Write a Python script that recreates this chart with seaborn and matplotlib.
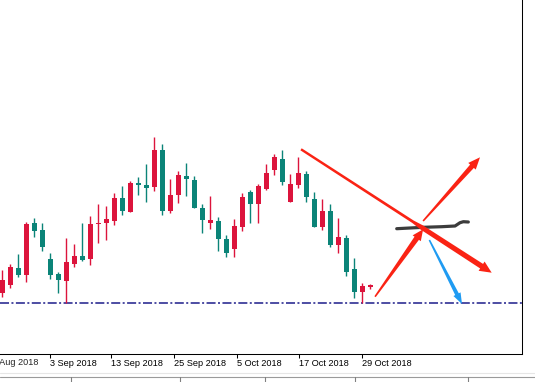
import numpy as np
import pandas as pd
import matplotlib
matplotlib.use("Agg")
import matplotlib.pyplot as plt
from matplotlib.lines import Line2D
from matplotlib.patches import Polygon
import seaborn as sns

# daily candles, late Aug 2018 -> 30 Oct 2018 (price in chart points)
opens = [61.3, 69, 86, 79, 131, 124, 95, 80, 73.3, 90, 98, 95.3, 130, 130.7, 133.3, 156,
         142.3, 171.3, 169, 166.7, 204, 143.3, 158.7, 178, 174, 145.7, 131.3, 133, 115, 105.3,
         127.3, 161.7, 150, 165.3, 184, 194.7, 152.3, 169, 179.7, 154.7, 126.7, 143, 108.7,
         115.7, 84.7, 62.3, 67.3]
highs = [84, 90, 100, 132, 136, 131, 101.3, 82, 116, 110, 131.3, 138, 150, 148, 161.3, 168,
         173.3, 177.3, 190, 217.3, 210, 174.7, 183.3, 190.7, 178, 150, 158, 136.7, 119, 134.7,
         160.7, 164, 170, 190, 200, 204, 180, 196.7, 183, 162.3, 154.7, 150, 135.7,
         119, 96.3, 71.3, 70]
lows = [57.3, 66, 77.3, 72.3, 117, 103.3, 75.3, 61, 51, 87.3, 93, 89, 110.7, 114, 129.3, 139.3,
        142.3, 159.3, 152.3, 162.7, 138.7, 141.3, 151.3, 158, 145.7, 121.3, 124.7, 102.7, 97.3, 96.7,
        122.7, 130.7, 131.3, 164, 179.3, 169, 152.3, 165.7, 152.3, 126.7, 124, 107.3, 101.3,
        78, 56.3, 50.7, 64.7]
closes = [74, 87.3, 79, 130, 123.3, 107.3, 79.3, 74, 92, 98, 94, 130, 131.3, 134.7, 156, 143.3,
          171.3, 168.7, 166.3, 204, 143.3, 159, 179, 175.3, 145.7, 134, 134, 114.7, 100.7, 128,
          156.7, 150, 168, 180.7, 197.3, 172.3, 170, 180.7, 157.3, 127.3, 143, 109, 116.7,
          82.3, 62, 68, 68.7]
support = 51

tick_pos = [5.96, 13.6, 21.5, 29.3, 37.1, 44.9]
tick_labels = ["3 Sep 2018", "13 Sep 2018", "25 Sep 2018", "5 Oct 2018", "17 Oct 2018", "29 Oct 2018"]
cut_label_pos = -1.9
cut_label = "23 Aug 2018"

# hand drawn marks (bar index, price)
trend_line = [(37.34, 204.7), (61.17, 81.3)]
up_from_low = [(46.59, 57.3), (52.6, 124.7)]
up_target = [(52.6, 133.0), (59.71, 196.7)]
down_target = [(53.38, 114.0), (57.46, 50.0)]
scribble_x = [49.3, 50.96, 52.63, 54.93, 56.59, 57.21, 57.63, 58.25]
scribble_y = [125.3, 126.0, 126.7, 127.3, 128.0, 131.3, 132.3, 132.0]

UP = "#dc143c"
DOWN = "#0b8478"
PEN = "#fa2314"

sns.set_style("white")
plt.rcParams['font.family'] = ['Liberation Sans', 'DejaVu Sans']

df = pd.DataFrame({"open": opens, "high": highs, "low": lows, "close": closes})
df["x"] = np.arange(len(df))
df["color"] = np.where(df["close"] >= df["open"], UP, DOWN)
df["bottom"] = df[["open", "close"]].min(axis=1)
df["body"] = (df["close"] - df["open"]).abs().clip(lower=1.2)

fig = plt.figure(figsize=(5.35, 3.82), dpi=100)
ax = fig.add_axes([0, 28 / 382, 522 / 535, 354 / 382])
ax.set_xlim(-0.29, 64.96)
ax.set_ylim(0, 354)

ax.vlines(df["x"], df["low"], df["high"], colors=df["color"], lw=1.0, zorder=2)
ax.bar(df["x"], df["body"], bottom=df["bottom"], width=0.62, color=df["color"],
       linewidth=0, zorder=3)

ax.axhline(support, color="#1c1c8a", lw=1.1, ls=(0, (5.9, 1.6, 1.3, 1.6)), zorder=1)


def taper_arrow(ax, seg, widths, hw, hl, color, z=5):
    # polygon built in pixels so the widths look like a marker pen
    p0 = ax.transData.transform(seg[0])
    p1 = ax.transData.transform(seg[1])
    d = p1 - p0
    u = d / np.hypot(*d)
    n = np.array([-u[1], u[0]])
    neck = p1 - u * hl
    left = [p0 + (neck - p0) * f + n * w / 2 for f, w in widths]
    right = [p0 + (neck - p0) * f - n * w / 2 for f, w in widths]
    pts = left + [neck + n * hw / 2, p1, neck - n * hw / 2] + right[::-1]
    pts = ax.transData.inverted().transform(np.array(pts))
    ax.add_patch(Polygon(pts, closed=True, color=color, lw=0, zorder=z))


sns.lineplot(x=scribble_x, y=scribble_y, ax=ax, color="#3c3c3c", lw=2.3,
             sort=False, zorder=4, solid_capstyle="round")

taper_arrow(ax, trend_line, [(0, 2.4), (0.62, 2.8), (0.67, 4.8), (1, 5.4)], 11, 12, PEN)
taper_arrow(ax, up_from_low, [(0, 1.6), (1, 5.4)], 10, 11, PEN)
taper_arrow(ax, up_target, [(0, 1.6), (1, 5.0)], 10, 12, PEN)
taper_arrow(ax, down_target, [(0, 1.6), (1, 4.0)], 8, 11, "#1f9bf2")

ax.set_xticks(tick_pos)
ax.set_xticklabels(tick_labels)
for lab in ax.get_xticklabels():
    lab.set_horizontalalignment("left")
ax.set_yticks([])
ax.tick_params(axis="x", direction="out", length=3, width=0.75, pad=0.8,
               labelsize=6.6, colors="black", bottom=True)
# first date label sits partly off the left edge
ax.text(cut_label_pos, -0.0125, cut_label, transform=ax.get_xaxis_transform(),
        ha="left", va="top", fontsize=6.6, clip_on=False)

for s in ["top", "left"]:
    ax.spines[s].set_visible(False)
for s in ["right", "bottom"]:
    ax.spines[s].set_color("black")
    ax.spines[s].set_linewidth(0.75)

# terminal tab strip under the chart
fig.add_artist(Line2D([0, 1], [1 - 373 / 382] * 2, color="#e6e6e6", lw=0.8))
fig.add_artist(Line2D([0, 1], [1 - 377 / 382] * 2, color="#9a9a9a", lw=0.8))
for sx in [71, 180, 265, 355, 468]:
    fig.add_artist(Line2D([sx / 535] * 2, [0, 1 - 377 / 382], color="#808080", lw=0.8))

fig.savefig("out.png", dpi=100)
